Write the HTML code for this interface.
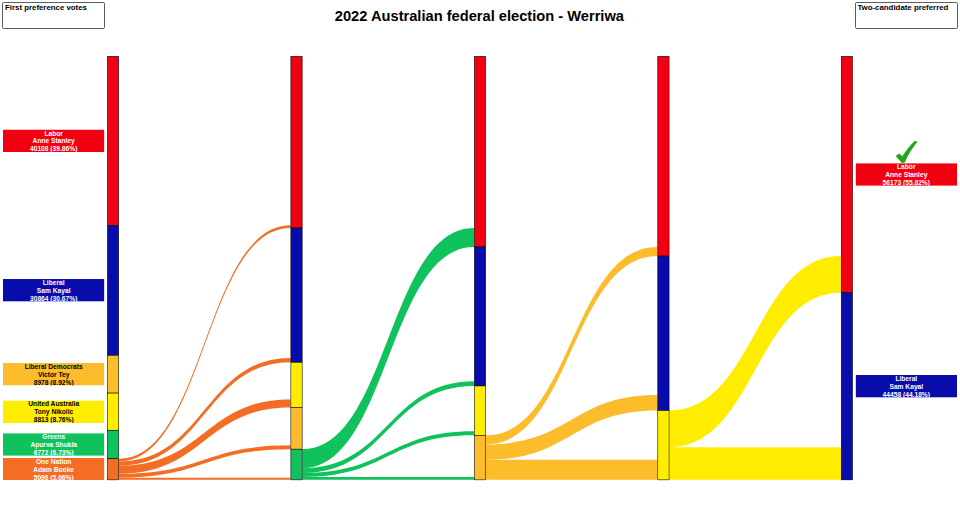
<!DOCTYPE html>
<html><head><meta charset="utf-8"><title>2022 Australian federal election - Werriwa</title>
<style>
html,body{margin:0;padding:0;background:#fff;}
svg{display:block;font-family:"Liberation Sans",sans-serif;font-weight:bold;}
.l{font-size:6.67px;text-anchor:middle;}
.b{font-size:7.85px;fill:#000;}
.t{font-size:14.67px;fill:#000;text-anchor:middle;}
</style></head><body>
<svg width="960" height="509" viewBox="0 0 960 509">
<rect width="960" height="509" fill="#fff"/>
<path d="M118.97,458.75 C204.78,458.75 204.78,225.35 290.59,225.35 L290.59,228.00 C204.78,228.00 204.78,461.40 118.97,461.40 Z" fill="#F36D24"/>
<path d="M118.97,461.40 C204.78,461.40 204.78,357.95 290.59,357.95 L290.59,362.25 C204.78,362.25 204.78,465.70 118.97,465.70 Z" fill="#F36D24"/>
<path d="M118.97,465.70 C204.78,465.70 204.78,399.40 290.59,399.40 L290.59,407.50 C204.78,407.50 204.78,473.80 118.97,473.80 Z" fill="#F36D24"/>
<path d="M118.97,473.80 C204.78,473.80 204.78,445.30 290.59,445.30 L290.59,449.20 C204.78,449.20 204.78,477.70 118.97,477.70 Z" fill="#F36D24"/>
<path d="M118.97,477.70 C204.78,477.70 204.78,477.70 290.59,477.70 L290.59,479.85 C204.78,479.85 204.78,479.85 118.97,479.85 Z" fill="#F36D24"/>
<path d="M302.44,449.20 C388.24,449.20 388.24,228.00 474.05,228.00 L474.05,246.95 C388.24,246.95 388.24,468.15 302.44,468.15 Z" fill="#10C25B"/>
<path d="M302.44,468.15 C388.24,468.15 388.24,381.20 474.05,381.20 L474.05,385.95 C388.24,385.95 388.24,472.90 302.44,472.90 Z" fill="#10C25B"/>
<path d="M302.44,472.90 C388.24,472.90 388.24,431.20 474.05,431.20 L474.05,435.30 C388.24,435.30 388.24,477.00 302.44,477.00 Z" fill="#10C25B"/>
<path d="M302.44,477.00 C388.24,477.00 388.24,477.00 474.05,477.00 L474.05,479.85 C388.24,479.85 388.24,479.85 302.44,479.85 Z" fill="#10C25B"/>
<path d="M485.90,435.30 C571.70,435.30 571.70,246.95 657.50,246.95 L657.50,256.10 C571.70,256.10 571.70,444.45 485.90,444.45 Z" fill="#FCBC2B"/>
<path d="M485.90,444.45 C571.70,444.45 571.70,395.10 657.50,395.10 L657.50,410.50 C571.70,410.50 571.70,459.85 485.90,459.85 Z" fill="#FCBC2B"/>
<path d="M485.90,459.85 C571.70,459.85 571.70,459.85 657.50,459.85 L657.50,479.85 C571.70,479.85 571.70,479.85 485.90,479.85 Z" fill="#FCBC2B"/>
<path d="M669.35,410.50 C755.16,410.50 755.16,256.10 840.97,256.10 L840.97,292.75 C755.16,292.75 755.16,447.15 669.35,447.15 Z" fill="#FFED00"/>
<path d="M669.35,447.15 C755.16,447.15 755.16,447.15 840.97,447.15 L840.97,479.85 C755.16,479.85 755.16,479.85 669.35,479.85 Z" fill="#FFED00"/>
<rect x="107.40" y="56.30" width="11.3" height="169.05" fill="#F00011" stroke="#000" stroke-width="0.55"/>
<rect x="107.40" y="225.35" width="11.3" height="129.95" fill="#080CAB" stroke="#000" stroke-width="0.55"/>
<rect x="107.40" y="355.30" width="11.3" height="37.80" fill="#FCBC2B" stroke="#000" stroke-width="0.55"/>
<rect x="107.40" y="393.10" width="11.3" height="37.15" fill="#FFED00" stroke="#000" stroke-width="0.55"/>
<rect x="107.40" y="430.25" width="11.3" height="28.50" fill="#10C25B" stroke="#000" stroke-width="0.55"/>
<rect x="107.40" y="458.75" width="11.3" height="21.10" fill="#F36D24" stroke="#000" stroke-width="0.55"/>
<rect x="290.86" y="56.30" width="11.3" height="171.70" fill="#F00011" stroke="#000" stroke-width="0.55"/>
<rect x="290.86" y="228.00" width="11.3" height="134.25" fill="#080CAB" stroke="#000" stroke-width="0.55"/>
<rect x="290.86" y="362.25" width="11.3" height="45.25" fill="#FFED00" stroke="#000" stroke-width="0.55"/>
<rect x="290.86" y="407.50" width="11.3" height="41.70" fill="#FCBC2B" stroke="#000" stroke-width="0.55"/>
<rect x="290.86" y="449.20" width="11.3" height="30.65" fill="#10C25B" stroke="#000" stroke-width="0.55"/>
<rect x="474.32" y="56.30" width="11.3" height="190.65" fill="#F00011" stroke="#000" stroke-width="0.55"/>
<rect x="474.32" y="246.95" width="11.3" height="139.00" fill="#080CAB" stroke="#000" stroke-width="0.55"/>
<rect x="474.32" y="385.95" width="11.3" height="49.35" fill="#FFED00" stroke="#000" stroke-width="0.55"/>
<rect x="474.32" y="435.30" width="11.3" height="44.55" fill="#FCBC2B" stroke="#000" stroke-width="0.55"/>
<rect x="657.78" y="56.30" width="11.3" height="199.80" fill="#F00011" stroke="#000" stroke-width="0.55"/>
<rect x="657.78" y="256.10" width="11.3" height="154.40" fill="#080CAB" stroke="#000" stroke-width="0.55"/>
<rect x="657.78" y="410.50" width="11.3" height="69.35" fill="#FFED00" stroke="#000" stroke-width="0.55"/>
<rect x="841.24" y="56.30" width="11.3" height="236.45" fill="#F00011" stroke="#000" stroke-width="0.55"/>
<rect x="841.24" y="292.75" width="11.3" height="187.10" fill="#080CAB" stroke="#000" stroke-width="0.55"/>
<svg x="3" y="129.52" width="101.4" height="22.60" overflow="hidden"><rect width="101.4" height="22.6" fill="#F00011"/><text x="50.70" y="6.00" fill="#fff" class="l">Labor</text><text x="50.70" y="13.80" fill="#fff" class="l">Anne Stanley</text><text x="50.70" y="21.75" fill="#fff" class="l">40108 (39.86%)</text></svg>
<svg x="3" y="279.02" width="101.4" height="22.60" overflow="hidden"><rect width="101.4" height="22.6" fill="#080CAB"/><text x="50.70" y="6.00" fill="#fff" class="l">Liberal</text><text x="50.70" y="13.80" fill="#fff" class="l">Sam Kayal</text><text x="50.70" y="21.75" fill="#fff" class="l">30864 (30.67%)</text></svg>
<svg x="3" y="362.90" width="101.4" height="22.60" overflow="hidden"><rect width="101.4" height="22.6" fill="#FCBC2B"/><text x="50.70" y="6.00" fill="#000" class="l">Liberal Democrats</text><text x="50.70" y="13.80" fill="#000" class="l">Victor Tey</text><text x="50.70" y="21.75" fill="#000" class="l">8978 (8.92%)</text></svg>
<svg x="3" y="400.38" width="101.4" height="22.60" overflow="hidden"><rect width="101.4" height="22.6" fill="#FFED00"/><text x="50.70" y="6.00" fill="#000" class="l">United Australia</text><text x="50.70" y="13.80" fill="#000" class="l">Tony Nikolic</text><text x="50.70" y="21.75" fill="#000" class="l">8813 (8.76%)</text></svg>
<svg x="3" y="433.20" width="101.4" height="22.60" overflow="hidden"><rect width="101.4" height="22.6" fill="#10C25B"/><text x="50.70" y="6.00" fill="#fff" class="l">Greens</text><text x="50.70" y="13.80" fill="#fff" class="l">Apurva Shukla</text><text x="50.70" y="21.75" fill="#fff" class="l">6772 (6.73%)</text></svg>
<svg x="3" y="458.00" width="101.4" height="22.10" overflow="hidden"><rect width="101.4" height="22.6" fill="#F36D24"/><text x="50.70" y="6.00" fill="#fff" class="l">One Nation</text><text x="50.70" y="13.80" fill="#fff" class="l">Adam Booke</text><text x="50.70" y="21.75" fill="#fff" class="l">5096 (5.06%)</text></svg>
<svg x="855.6" y="163.22" width="101.4" height="22.60" overflow="hidden"><rect width="101.4" height="22.6" fill="#F00011"/><text x="50.70" y="6.00" fill="#fff" class="l">Labor</text><text x="50.70" y="13.80" fill="#fff" class="l">Anne Stanley</text><text x="50.70" y="21.75" fill="#fff" class="l">56173 (55.82%)</text></svg>
<svg x="855.6" y="375.00" width="101.4" height="22.60" overflow="hidden"><rect width="101.4" height="22.6" fill="#080CAB"/><text x="50.70" y="6.00" fill="#fff" class="l">Liberal</text><text x="50.70" y="13.80" fill="#fff" class="l">Sam Kayal</text><text x="50.70" y="21.75" fill="#fff" class="l">44458 (44.18%)</text></svg>
<rect x="2.5" y="2.5" width="102" height="26" rx="1.2" fill="#fff" stroke="#333" stroke-width="0.8"/>
<rect x="855.5" y="2.5" width="102" height="26" rx="1.2" fill="#fff" stroke="#333" stroke-width="0.8"/>
<text x="5" y="10.1" class="b">First preference votes</text>
<text x="857.4" y="10.1" class="b">Two-candidate preferred</text>
<text x="479.4" y="21" class="t">2022 Australian federal election - Werriwa</text>
<path d="M895.7,156.1 L899.2,153.5 L902.3,156.2 C906.3,150.5 910.1,145 914.2,141.4 C915.6,140.6 917.4,141.2 916.9,142.6 C912.2,148.2 908.2,155 904.7,162.4 L901.8,163.1 Z" fill="#1DA81D"/>
</svg>
</body></html>
